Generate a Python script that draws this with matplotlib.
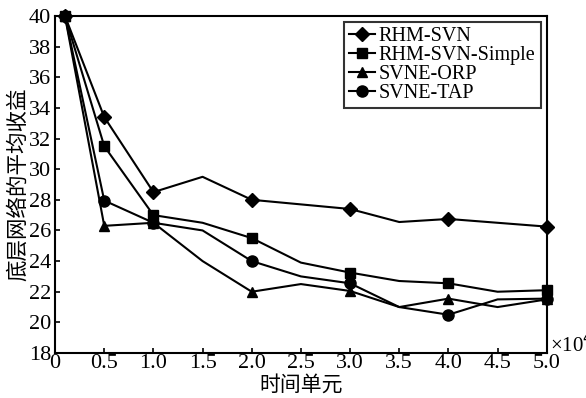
import matplotlib
matplotlib.use("Agg")
import matplotlib.pyplot as plt

# Time units (x 10^4)
x = [0.1, 0.5, 1.0, 1.5, 2.0, 2.5, 3.0, 3.5, 4.0, 4.5, 5.0]
rhm_svn = [40.0, 33.4, 28.5, 29.5, 28.0, 27.7, 27.4, 26.55, 26.75, 26.5, 26.25]
rhm_svn_simple = [40.0, 31.5, 27.0, 26.5, 25.5, 23.9, 23.25, 22.7, 22.55, 22.0, 22.1]
svne_orp = [40.0, 26.3, 26.5, 24.0, 22.0, 22.5, 22.05, 21.0, 21.55, 21.0, 21.5]
svne_tap = [40.0, 27.95, 26.5, 26.0, 24.0, 23.0, 22.55, 21.0, 20.5, 21.5, 21.55]

series_names = ["RHM-SVN", "RHM-SVN-Simple", "SVNE-ORP", "SVNE-TAP"]
xtick_values = [0, 0.5, 1.0, 1.5, 2.0, 2.5, 3.0, 3.5, 4.0, 4.5, 5.0]
xtick_labels = ["0", "0.5", "1.0", "1.5", "2.0", "2.5", "3.0", "3.5", "4.0", "4.5", "5.0"]
ytick_values = [18, 20, 22, 24, 26, 28, 30, 32, 34, 36, 38, 40]

serif = ["Liberation Serif", "Noto Sans CJK SC"]
cjk = ["Noto Sans CJK SC"]

fig = plt.figure(figsize=(5.86, 3.98), dpi=100)
ax = fig.add_axes([0.094, 0.113, 0.839, 0.847])

marked = [0, 1, 2, 4, 6, 8, 10]
styles = [("D", 7), ("s", 7.5), ("^", 7.5), ("o", 8)]
for ys, name, (mk, ms) in zip([rhm_svn, rhm_svn_simple, svne_orp, svne_tap], series_names, styles):
    ax.plot(x, ys, color="black", lw=1.5, marker=mk, markersize=ms,
            markevery=marked, label=name, clip_on=False)

ax.set_xlim(0, 5.0)
ax.set_ylim(18, 40)
ax.set_xticks(xtick_values)
ax.set_xticklabels(xtick_labels, fontfamily=serif, fontsize=16)
ax.set_yticks(ytick_values)
ax.set_yticklabels([str(v) for v in ytick_values], fontfamily=serif, fontsize=16)
ax.tick_params(direction="in", length=3.5, width=1.2, top=False, right=False)
ax.tick_params(axis="x", pad=1)
ax.tick_params(axis="y", pad=3)
for s in ax.spines.values():
    s.set_linewidth(1.5)

ax.set_xlabel("时间单元", fontfamily=cjk, fontsize=15, labelpad=0)
ax.set_ylabel("底层网络的平均收益", fontfamily=cjk, fontsize=15.5, labelpad=0)
ax.text(1.007, 0.024, "×10$^4$", transform=ax.transAxes, fontfamily=serif,
        fontsize=15, ha="left", va="center")

leg = ax.legend(loc="upper right", prop={"family": serif, "size": 14.5},
                frameon=True, fancybox=False, edgecolor="black",
                handlelength=1.3, handletextpad=0.2, labelspacing=0.0,
                borderpad=0.25, borderaxespad=0.3)
leg.get_frame().set_linewidth(1.5)

fig.savefig("out.png", dpi=100)
